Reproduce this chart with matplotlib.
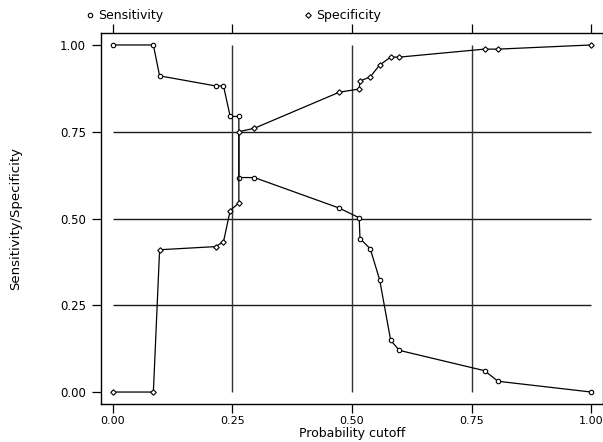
import matplotlib
matplotlib.use("Agg")
import matplotlib.pyplot as plt
from matplotlib.lines import Line2D

# Probability cutoffs and the corresponding sensitivity / specificity
cutoff = [0.0, 0.085, 0.098, 0.215, 0.2315, 0.2455, 0.2636, 0.2636, 0.296,
          0.4735, 0.515, 0.5167, 0.538, 0.5577, 0.5808, 0.599, 0.777, 0.805, 1.0]
sensitivity = [1.0, 1.0, 0.911, 0.882, 0.882, 0.794, 0.794, 0.618, 0.618,
               0.530, 0.502, 0.442, 0.413, 0.324, 0.149, 0.120, 0.0615, 0.031, 0.0]
specificity = [0.0, 0.0, 0.41, 0.419, 0.433, 0.523, 0.545, 0.75, 0.760,
               0.864, 0.873, 0.896, 0.908, 0.942, 0.965, 0.965, 0.988, 0.988, 1.0]

ticks = [0.0, 0.25, 0.5, 0.75, 1.0]
tick_labels = ["0.00", "0.25", "0.50", "0.75", "1.00"]
ref_lines = [0.25, 0.5, 0.75]

W, H = 603, 442
fig = plt.figure(figsize=(W / 100, H / 100), dpi=100)
left, right, top, bottom = 101.3, 602.7, 33.3, 403.7
ax = fig.add_axes([left / W, 1 - bottom / H, (right - left) / W, (bottom - top) / H])

# reference lines
ax.hlines(ref_lines, 0, 1, color="#1a1a1a", lw=1.0, zorder=1)
ax.vlines(ref_lines, 0, 1, color="#333333", lw=1.0, zorder=1)

ax.plot(cutoff, sensitivity, color="black", lw=0.9, marker="o", ms=3.2,
        mfc="white", mec="black", mew=0.8, zorder=3)
ax.plot(cutoff, specificity, color="black", lw=0.9, marker="D", ms=2.8,
        mfc="white", mec="black", mew=0.8, zorder=3)

ax.set_xlim(-0.0238, 1.0238)
ax.set_ylim(-0.0336, 1.0336)
ax.set_xticks(ticks)
ax.set_xticklabels(tick_labels)
ax.set_yticks(ticks)
ax.set_yticklabels(tick_labels)
ax.tick_params(axis="both", direction="out", length=6.5, width=0.9,
               labelsize=8.5, color="black", top=True, right=True)
ax.tick_params(axis="x", pad=2.5, labelsize=8)
ax.tick_params(axis="y", pad=4.5)
for sp in ax.spines.values():
    sp.set_linewidth(1.0)

ax.set_xlabel("Probability cutoff", fontsize=9, labelpad=0.5)
ax.set_ylabel("Sensitivity/Specificity", fontsize=9.5, labelpad=27)

h_sens = Line2D([], [], ls="none", marker="o", ms=3.2, mfc="white", mec="black", mew=0.8)
h_spec = Line2D([], [], ls="none", marker="D", ms=2.8, mfc="white", mec="black", mew=0.8)
for h, lab, xpos in [(h_sens, "Sensitivity", 86 / W), (h_spec, "Specificity", 304 / W)]:
    fig.legend([h], [lab], loc="center left", bbox_to_anchor=(xpos, 1 - 16 / H),
               frameon=False, fontsize=9, handlelength=0.6, handletextpad=0.4,
               borderaxespad=0, borderpad=0)

fig.savefig("out.png", dpi=100)
